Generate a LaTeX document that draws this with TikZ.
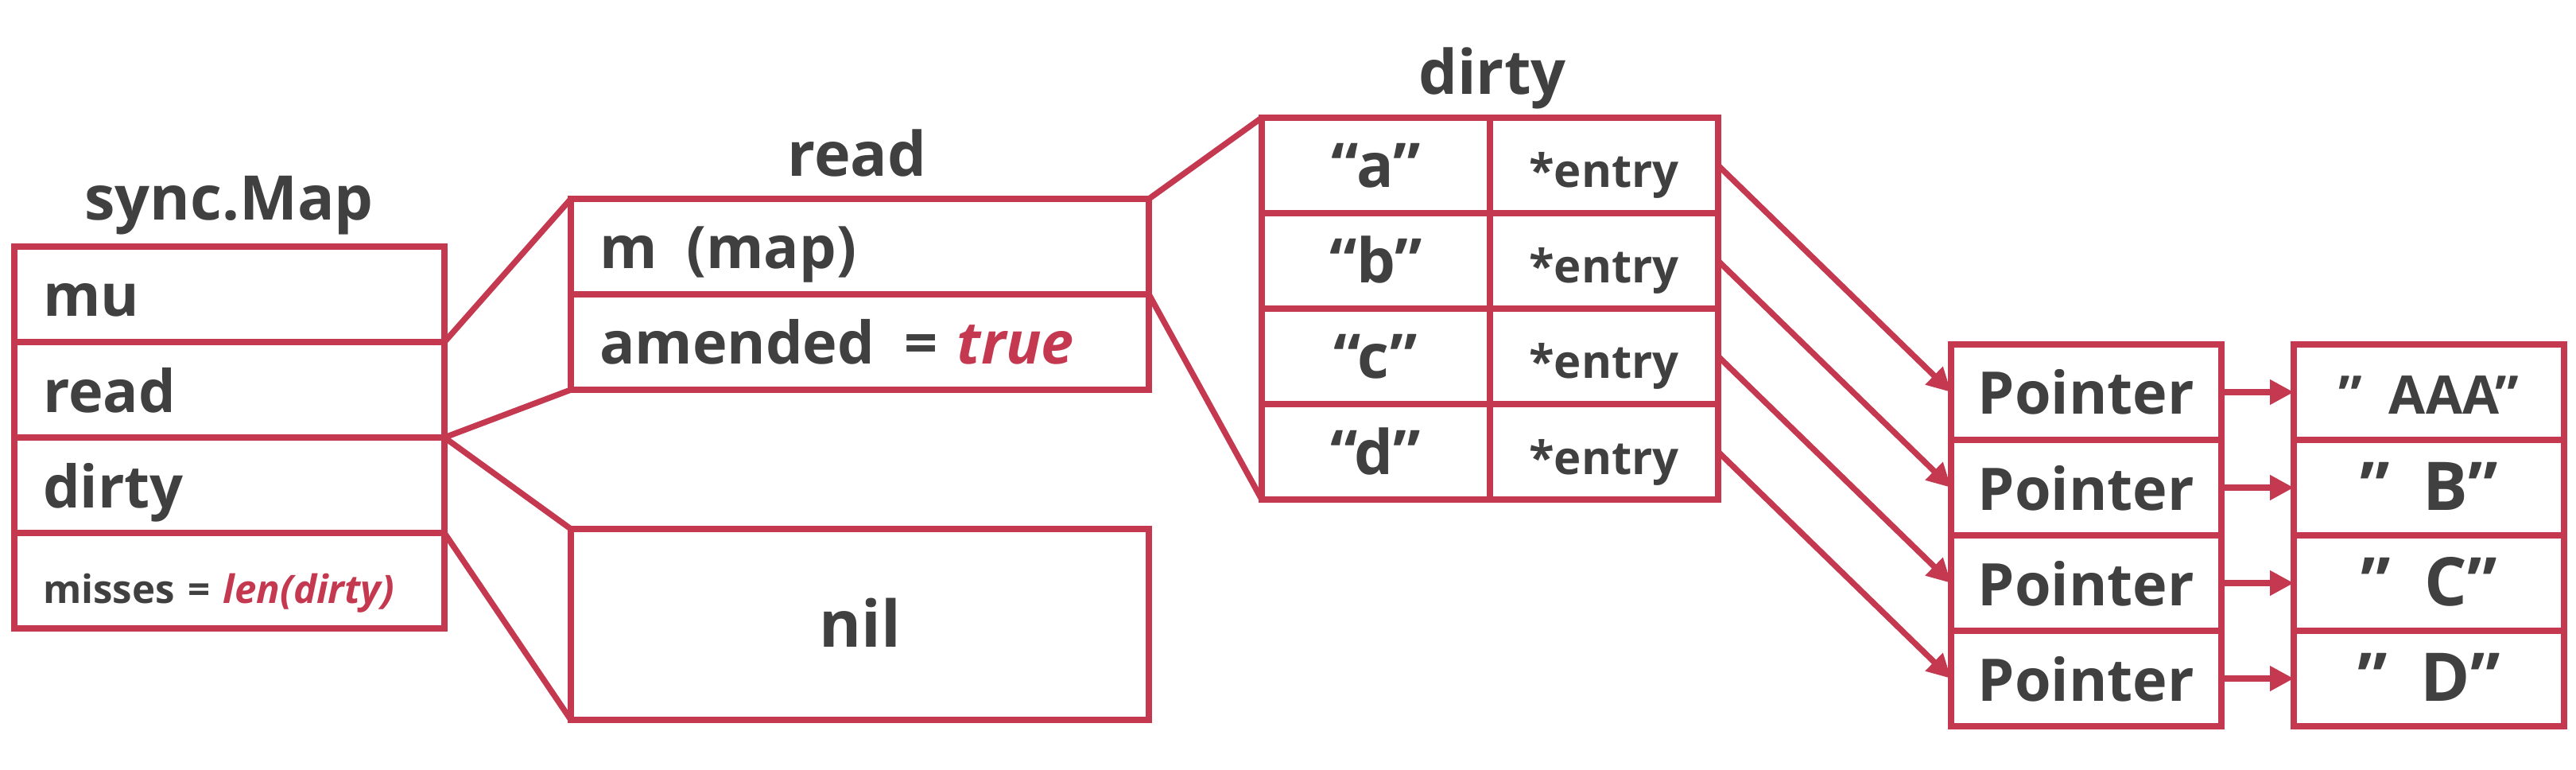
\documentclass[tikz,border=0pt]{standalone}
\usepackage{fontspec}
\setmainfont{Open Sans}
\usetikzlibrary{positioning,arrows.meta}
\definecolor{crim}{RGB}{196,57,80}
\definecolor{ink}{RGB}{64,64,64}

\begin{document}
\begin{tikzpicture}[
    cell/.style={draw=crim, line width=2.2pt, outer sep=0pt, inner sep=0pt,
      minimum height=1.2cm, text=ink, text height=0.7cm, text depth=0.14cm,
      font=\fontsize{21}{21}\selectfont\bfseries},
    field/.style={cell, inner xsep=0.36cm, align=left, text width=#1},
    key/.style={cell, minimum width=2.87cm, font=\fontsize{22}{22}\selectfont\bfseries},
    entry/.style={cell, minimum width=2.87cm, font=\fontsize{16.5}{16.5}\selectfont\bfseries},
    ptr/.style={cell, minimum width=3.4cm},
    val/.style={cell, minimum width=3.4cm, font=\fontsize{24}{24}\selectfont\bfseries},
    title/.style={anchor=base, text=ink, font=\fontsize{22}{22}\selectfont\bfseries},
    link/.style={draw=crim, line width=2.1pt},
    arr/.style={link, -{Triangle[length=0.3cm, width=0.3cm]}}
  ]
    \useasboundingbox (0,0) rectangle (32.4,-9.68);

    \node[title] (smt) at (2.88,-2.77) {sync.Map};
    \node[field=4.69cm, anchor=north west] (mu) at (0.18,-3.10) {mu};
    \node[field=4.69cm, below=0pt of mu] (rd) {read};
    \node[field=4.69cm, below=0pt of rd] (dt) {dirty};
    \node[field=4.69cm, below=0pt of dt, font=\fontsize{14}{14}\selectfont\bfseries] (ms)
        {misses = {\color{crim}\itshape len(dirty)}};

    \node[title] (rdt) at (10.78,-2.22) {read};
    \node[field=6.55cm, anchor=north west] (m) at (7.18,-2.50) {m\enspace(map)};
    \node[field=6.55cm, below=0pt of m] (amd) {amended\enspace = {\color{crim}\itshape true}};

    \node[cell, minimum width=7.27cm, minimum height=2.4cm, font=\fontsize{23}{23}\selectfont\bfseries,
        anchor=north west] (nil) at (7.18,-6.65) {nil};

    \node[title] (dtt) at (18.77,-1.19) {dirty};
    \node[key, anchor=north west] (ka) at (15.87,-1.48) {“a”};
    \node[key, below=0pt of ka] (kb) {“b”};
    \node[key, below=0pt of kb] (kc) {“c”};
    \node[key, below=0pt of kc] (kd) {“d”};
    \node[entry, right=0pt of ka] (ea) {*entry};
    \node[entry, right=0pt of kb] (eb) {*entry};
    \node[entry, right=0pt of kc] (ec) {*entry};
    \node[entry, right=0pt of kd] (ed) {*entry};

    \node[ptr, anchor=north west] (p1) at (24.54,-4.33) {Pointer};
    \node[ptr, below=0pt of p1] (p2) {Pointer};
    \node[ptr, below=0pt of p2] (p3) {Pointer};
    \node[ptr, below=0pt of p3] (p4) {Pointer};
    \node[val, anchor=north west, font=\fontsize{19}{19}\selectfont\bfseries] (v1) at (28.85,-4.33) {"\enspace AAA"};
    \node[val, below=0pt of v1] (v2) {"\enspace B"};
    \node[val, below=0pt of v2] (v3) {"\enspace C"};
    \node[val, below=0pt of v3] (v4) {"\enspace D"};

    \draw[link] (mu.south east) to (m.north west);
    \draw[link] (rd.south east) to (amd.south west);
    \draw[link] (rd.south east) to (nil.north west);
    \draw[link] (dt.south east) to (nil.south west);
    \draw[link] (m.north east) to (ka.north west);
    \draw[link] (m.south east) to (kd.south west);

    \draw[arr] (ea.east) to (p1.west);
    \draw[arr] (eb.east) to (p2.west);
    \draw[arr] (ec.east) to (p3.west);
    \draw[arr] (ed.east) to (p4.west);
    \draw[arr] (p1.east) to (v1.west);
    \draw[arr] (p2.east) to (v2.west);
    \draw[arr] (p3.east) to (v3.west);
    \draw[arr] (p4.east) to (v4.west);
\end{tikzpicture}
\end{document}
